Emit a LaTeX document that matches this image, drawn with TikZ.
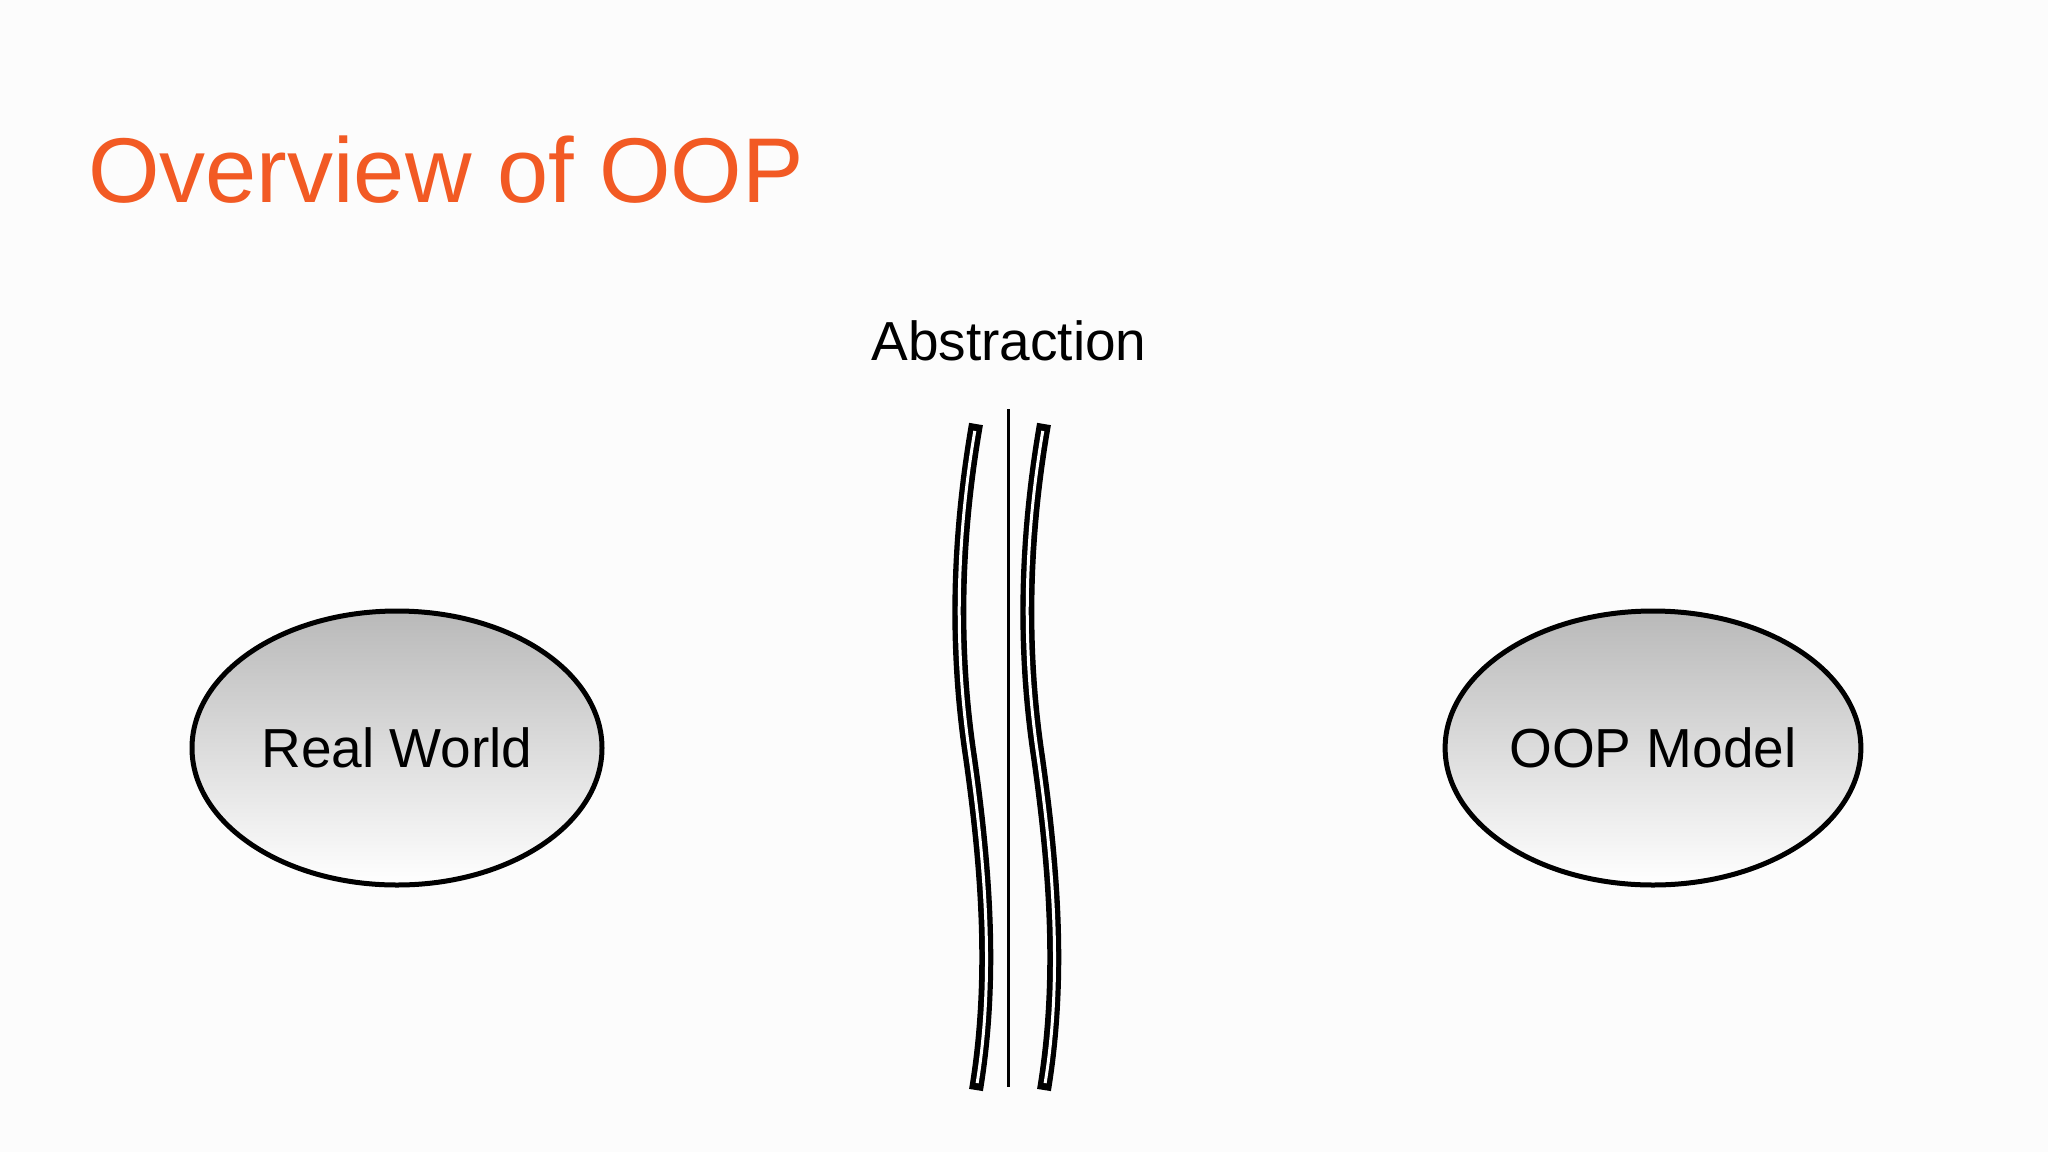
\documentclass[tikz,border=0pt]{standalone}
\usepackage{fontspec}
\usetikzlibrary{shapes.geometric}
\setmainfont{Liberation Sans}
\definecolor{titleor}{HTML}{F25A24}
\definecolor{bg}{HTML}{FCFCFC}
\begin{document}
\begin{tikzpicture}[x=1pt,y=-1pt,
  blob/.style={ellipse,draw=black,line width=5pt,top color=gray!55,bottom color=white,minimum width=410pt,minimum height=274pt,font=\fontsize{55}{60}\selectfont},
  lensout/.style={draw=black,line width=14pt},
  lensin/.style={draw=white,line width=3pt,shorten >=7pt,shorten <=7pt}]
\fill[bg] (0,0) rectangle (2048,1152);
\useasboundingbox (0,0) rectangle (2048,1152);
\node[anchor=base west,text=titleor,font=\fontsize{92}{96}\selectfont,inner sep=0] (title) at (88,202) {Overview of OOP};
\node[font=\fontsize{55}{60}\selectfont,inner sep=0] (abs) at (1009,341) {Abstraction};
\node[blob] (rw) at (397,748) {Real World};
\node[blob] (oop) at (1653,748) {OOP Model};
\coordinate (ct) at (1008,409);
\coordinate (cb) at (1008,1087);
\draw[line width=3pt] (ct) -- (cb);
\foreach \dx/\n in {0/l,68/r}{
  \coordinate (\n1) at (976+\dx,424);
  \coordinate (\n2) at (970+\dx,757);
  \coordinate (\n3) at (976+\dx,1090);
  \draw[lensout] (\n1) .. controls (956+\dx,540) and (954+\dx,650) .. (\n2) .. controls (986+\dx,870) and (994+\dx,980) .. (\n3);
  \draw[lensin] (\n1) .. controls (956+\dx,540) and (954+\dx,650) .. (\n2) .. controls (986+\dx,870) and (994+\dx,980) .. (\n3);
}
\end{tikzpicture}
\end{document}
